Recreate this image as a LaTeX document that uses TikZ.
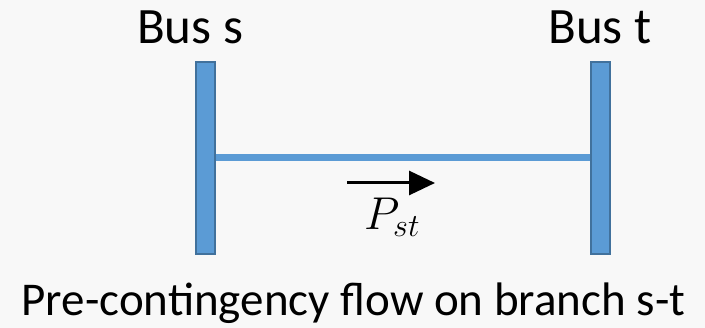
\RequirePackage{fix-cm}
\documentclass[tikz,border=0pt]{standalone}
\usepackage{amsmath}
\usepackage{fontspec}
\setmainfont{Carlito}
\usepackage{tikz}
\usetikzlibrary{arrows.meta}
\usepackage{xcolor}
\definecolor{busblue}{HTML}{5B9BD5}
\definecolor{busedge}{HTML}{41719C}
\definecolor{paper}{HTML}{F8F8F8}

\begin{document}
\begin{tikzpicture}[x=1pt, y=-1pt,
    bus/.style={draw=busedge, line width=2pt, fill=busblue, minimum width=19pt, minimum height=192pt, inner sep=0pt},
    buslabel/.style={anchor=base, font=\fontsize{51}{60}\selectfont},
    caption/.style={anchor=base, inner sep=0pt, font=\fontsize{47}{54}\selectfont}]
    \fill[paper] (0,0) rectangle (705,328);
    \useasboundingbox (0,0) rectangle (705,328);
    \node[bus] (busS) at (205.5,158) {};
    \node[bus] (busT) at (600,158) {};
    \draw[busblue, line width=7pt] (busS.east) -- (busT.west);
    \node[buslabel] (labelS) at (190,44) {Bus s};
    \node[buslabel] (labelT) at (600,44) {Bus t};
    \coordinate (flowA) at (347,183);
    \coordinate (flowB) at (435,183);
    \draw[line width=3pt, -{Triangle[length=26pt,width=24pt]}] (flowA) -- (flowB);
    \node[anchor=base west, inner sep=0pt, font=\fontsize{46}{54}\selectfont] (flow) at (364,230) {$P_{st}$};
    \node[caption] (cap) at (353.5,316) {Pre-contingency flow on branch s-t};
\end{tikzpicture}
\end{document}
